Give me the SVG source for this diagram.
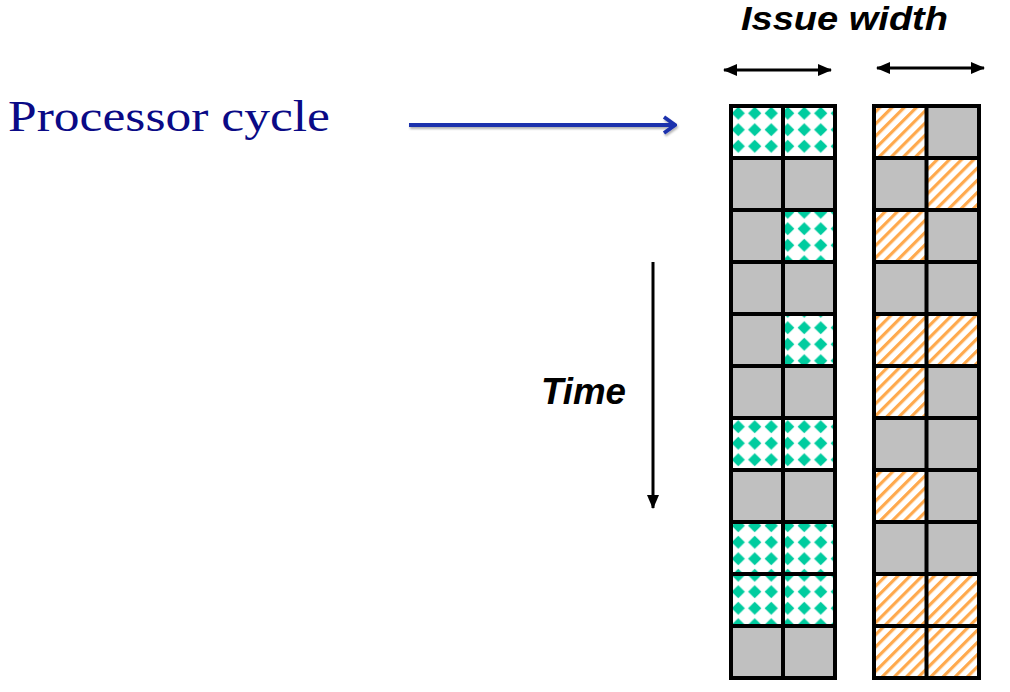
<svg xmlns="http://www.w3.org/2000/svg" width="1010" height="692" viewBox="0 0 1010 692">
<style>
.gray{fill:#c0c0c0}
.green{fill:url(#diamonds)}
.orange{fill:url(#hatch)}
.grid{fill:none;stroke:#000;stroke-width:4}
.lbl{font-family:"Liberation Sans",Arial,sans-serif;font-weight:bold;font-style:italic;fill:#000}
.title{font-family:"Liberation Serif","Times New Roman",serif;fill:#0a0a86}
.blk{stroke:#000;stroke-width:3;fill:none}
</style>
<defs>
<pattern id="diamonds" patternUnits="userSpaceOnUse" x="730" y="105" width="16.5" height="16.5">
<rect width="16.5" height="16.5" fill="#fff"/>
<polygon points="8.25,1.6 14.9,8.25 8.25,14.9 1.6,8.25" fill="#00cc9f"/>
</pattern>
<pattern id="hatch" patternUnits="userSpaceOnUse" width="8.6" height="8.6" patternTransform="rotate(45)">
<rect width="8.6" height="8.6" fill="#fff"/>
<rect width="3.2" height="8.6" fill="#ffa94d"/>
</pattern>
<marker id="ah" viewBox="0 0 14 12" refX="13" refY="6" markerWidth="14" markerHeight="12" markerUnits="userSpaceOnUse" orient="auto-start-reverse">
<path d="M0,0 L14,6 L0,12 Z" fill="#000"/>
</marker>
<marker id="bh" viewBox="0 0 15 20" refX="13" refY="10" markerWidth="15" markerHeight="20" markerUnits="userSpaceOnUse" orient="auto">
<path d="M2,2 L13,10 L2,18" fill="none" stroke="#1f32ad" stroke-width="3.8" stroke-linejoin="miter"/>
</marker>
<filter id="sh" filterUnits="userSpaceOnUse" x="395" y="105" width="300" height="40">
<feDropShadow dx="1" dy="2" stdDeviation="1.2" flood-color="#000" flood-opacity="0.3"/>
</filter>
</defs>
<rect width="1010" height="692" fill="#fff"/>

<g id="label-processor-cycle">
<text class="title" x="8" y="131" font-size="44" textLength="322" lengthAdjust="spacingAndGlyphs">Processor cycle</text>
</g>
<g id="label-issue-width">
<text class="lbl" x="741" y="30" font-size="34" textLength="207" lengthAdjust="spacingAndGlyphs">Issue width</text>
</g>
<g id="label-time">
<text class="lbl" x="541" y="404" font-size="36" textLength="85" lengthAdjust="spacingAndGlyphs">Time</text>
</g>

<g id="grid-left">
<rect class="green" x="731" y="106" width="52" height="52"/><rect class="green" x="783" y="106" width="52" height="52"/>
<rect class="gray" x="731" y="158" width="52" height="52"/><rect class="gray" x="783" y="158" width="52" height="52"/>
<rect class="gray" x="731" y="210" width="52" height="52"/><rect class="green" x="783" y="210" width="52" height="52"/>
<rect class="gray" x="731" y="262" width="52" height="52"/><rect class="gray" x="783" y="262" width="52" height="52"/>
<rect class="gray" x="731" y="314" width="52" height="52"/><rect class="green" x="783" y="314" width="52" height="52"/>
<rect class="gray" x="731" y="366" width="52" height="52"/><rect class="gray" x="783" y="366" width="52" height="52"/>
<rect class="green" x="731" y="418" width="52" height="52"/><rect class="green" x="783" y="418" width="52" height="52"/>
<rect class="gray" x="731" y="470" width="52" height="52"/><rect class="gray" x="783" y="470" width="52" height="52"/>
<rect class="green" x="731" y="522" width="52" height="52"/><rect class="green" x="783" y="522" width="52" height="52"/>
<rect class="green" x="731" y="574" width="52" height="52"/><rect class="green" x="783" y="574" width="52" height="52"/>
<rect class="gray" x="731" y="626" width="52" height="52"/><rect class="gray" x="783" y="626" width="52" height="52"/>
<path class="grid" d="M731,106H835V678H731Z M783,106V678 M731,158H835 M731,210H835 M731,262H835 M731,314H835 M731,366H835 M731,418H835 M731,470H835 M731,522H835 M731,574H835 M731,626H835"/>
</g>

<g id="grid-right">
<rect class="orange" x="874" y="106" width="52.5" height="52"/><rect class="gray" x="926.5" y="106" width="52.5" height="52"/>
<rect class="gray" x="874" y="158" width="52.5" height="52"/><rect class="orange" x="926.5" y="158" width="52.5" height="52"/>
<rect class="orange" x="874" y="210" width="52.5" height="52"/><rect class="gray" x="926.5" y="210" width="52.5" height="52"/>
<rect class="gray" x="874" y="262" width="52.5" height="52"/><rect class="gray" x="926.5" y="262" width="52.5" height="52"/>
<rect class="orange" x="874" y="314" width="52.5" height="52"/><rect class="orange" x="926.5" y="314" width="52.5" height="52"/>
<rect class="orange" x="874" y="366" width="52.5" height="52"/><rect class="gray" x="926.5" y="366" width="52.5" height="52"/>
<rect class="gray" x="874" y="418" width="52.5" height="52"/><rect class="gray" x="926.5" y="418" width="52.5" height="52"/>
<rect class="orange" x="874" y="470" width="52.5" height="52"/><rect class="gray" x="926.5" y="470" width="52.5" height="52"/>
<rect class="gray" x="874" y="522" width="52.5" height="52"/><rect class="gray" x="926.5" y="522" width="52.5" height="52"/>
<rect class="orange" x="874" y="574" width="52.5" height="52"/><rect class="orange" x="926.5" y="574" width="52.5" height="52"/>
<rect class="orange" x="874" y="626" width="52.5" height="52"/><rect class="orange" x="926.5" y="626" width="52.5" height="52"/>
<path class="grid" d="M874,106H979V678H874Z M926.5,106V678 M874,158H979 M874,210H979 M874,262H979 M874,314H979 M874,366H979 M874,418H979 M874,470H979 M874,522H979 M874,574H979 M874,626H979"/>
</g>

<g id="connectors">
<line x1="409" y1="125" x2="675" y2="125" stroke="#1f32ad" stroke-width="3.8" marker-end="url(#bh)" filter="url(#sh)"/>
<line class="blk" x1="724" y1="70" x2="831" y2="70" marker-start="url(#ah)" marker-end="url(#ah)"/>
<line class="blk" x1="877" y1="68" x2="984" y2="68" marker-start="url(#ah)" marker-end="url(#ah)"/>
<line class="blk" x1="653" y1="262" x2="653" y2="508" marker-end="url(#ah)"/>
</g>
</svg>
